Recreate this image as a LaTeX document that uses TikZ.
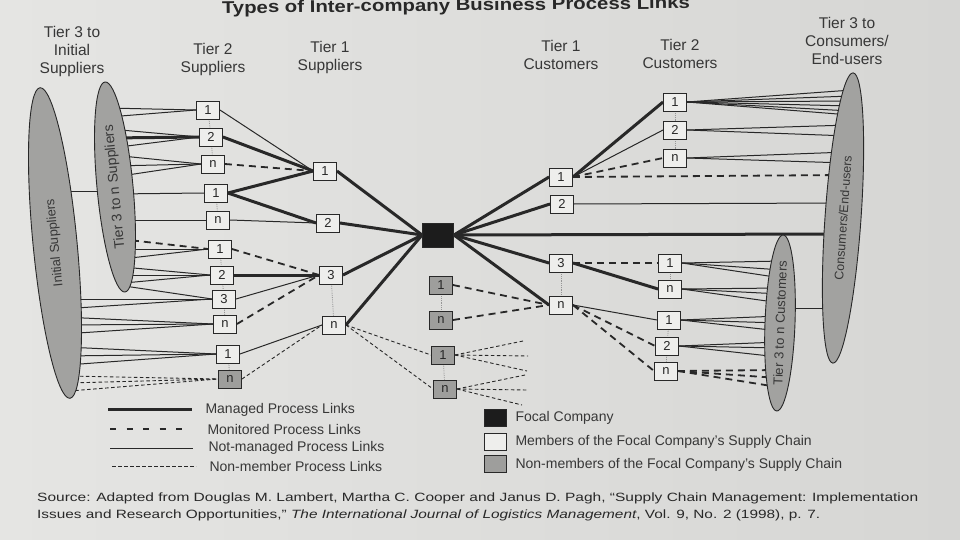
\documentclass[tikz,border=0pt]{standalone}
\usepackage{graphicx}
\usepackage{fontspec}
\setmainfont{Liberation Sans}
\usetikzlibrary{shapes.geometric}

\definecolor{paperL}{RGB}{229,229,227}
\definecolor{paperR}{RGB}{214,214,212}
\definecolor{ink}{RGB}{40,40,40}
\definecolor{txt}{RGB}{55,55,55}
\definecolor{memfill}{RGB}{238,238,236}
\definecolor{nonfill}{RGB}{158,158,156}
\definecolor{ellfill}{RGB}{162,162,160}
\definecolor{focfill}{RGB}{28,28,28}
\definecolor{runggrey}{RGB}{150,150,150}

\pgfdeclarelayer{paper}
\pgfdeclarelayer{links}
\pgfsetlayers{paper,links,main}

\tikzset{
  member/.style={draw=ink, line width=0.9pt, fill=memfill, minimum width=23pt,
    minimum height=18pt, inner sep=0pt, text=ink, font=\fontsize{13}{13}\selectfont},
  nonmember/.style={member, fill=nonfill},
  focalbox/.style={draw=ink, line width=0.9pt, fill=focfill, minimum width=31pt,
    minimum height=24pt, inner sep=0pt},
  cluster/.style={ellipse, draw=ink, line width=0.9pt, fill=ellfill, inner sep=0pt, text=txt},
  managed/.style={draw=ink, line width=3pt},
  monitored/.style={draw=ink, line width=1.8pt, dash pattern=on 7pt off 5pt},
  notmanaged/.style={draw=ink, line width=1pt},
  nonmemberlink/.style={draw=ink, line width=0.9pt, dash pattern=on 3.5pt off 2.5pt},
  rung/.style={draw=runggrey, line width=0.8pt, densely dotted},
  header/.style={text=txt, align=center, font=\fontsize{15.5}{18}\selectfont},
  legendtxt/.style={text=txt, anchor=west, font=\fontsize{14}{14}\selectfont},
  srctxt/.style={text=ink, inner sep=0pt, font=\fontsize{12}{14}\selectfont}
}

\begin{document}
\begin{tikzpicture}[x=1pt,y=-1pt]
\useasboundingbox (0,0) rectangle (960,540);
\begin{pgfonlayer}{paper}
  \shade[left color=paperL, right color=paperR] (0,0) rectangle (960,540);
\end{pgfonlayer}

% title
\node[anchor=base, text=ink, inner sep=0pt, rotate=0.6, font=\fontsize{17}{17}\selectfont]
  (title) at (456,11) {\resizebox{468pt}{\height}{\bfseries Types of Inter-company Business Process Links}};

% column headings
\node[header] (hInit) at (72,51) {Tier 3 to\\Initial\\Suppliers};
\node[header] (hSupTwo) at (213,59) {Tier 2\\Suppliers};
\node[header] (hSupOne) at (330,57) {Tier 1\\Suppliers};
\node[header] (hCusOne) at (561,55) {Tier 1\\Customers};
\node[header] (hCusTwo) at (680,54) {Tier 2\\Customers};
\node[header] (hCons) at (847,41) {Tier 3 to\\Consumers/\\End-users};

% supplier and customer groups
\node[cluster, minimum width=312pt, minimum height=44pt, rotate=95.5,
  font=\fontsize{13}{13}\selectfont] (initial) at (55,243) {Initial Suppliers};
\node[cluster, minimum width=211pt, minimum height=36pt, rotate=95.4,
  font=\fontsize{14}{14}\selectfont] (tierthree) at (115,187) {Tier 3 to n Suppliers};
\node[cluster, minimum width=291pt, minimum height=36pt, rotate=86,
  font=\fontsize{12.5}{12.5}\selectfont] (consumers) at (843,218) {Consumers/End-users};
\node[cluster, minimum width=165pt, minimum height=30pt, rotate=87.9,
  font=\fontsize{13}{13}\selectfont] (custthree) at (780,323) {Tier 3 to n Customers};

% tier 2 suppliers
\node[member] (s2a) at (208,110) {1};
\node[member] (s2b) at (211,137) {2};
\node[member] (s2c) at (213,164) {n};
\node[member] (s2d) at (216,193) {1};
\node[member] (s2e) at (218,220) {n};
\node[member] (s2f) at (220,249) {1};
\node[member] (s2g) at (222,275) {2};
\node[member] (s2h) at (224,299) {3};
\node[member] (s2i) at (225,324) {n};
\node[member] (s2j) at (228,354) {1};
\node[nonmember] (s2k) at (230,379) {n};

% tier 1 suppliers
\node[member] (s1a) at (325,171) {1};
\node[member] (s1b) at (328,223) {2};
\node[member] (s1c) at (331,275) {3};
\node[member] (s1d) at (334,325) {n};

% focal company
\node[focalbox] (focal) at (438,235) {};

% non-members in the middle
\node[nonmember] (ga) at (441,285) {1};
\node[nonmember] (gb) at (441,320) {n};
\node[nonmember] (gc) at (443,355) {1};
\node[nonmember] (gd) at (445,389) {n};

% tier 1 customers
\node[member] (c1a) at (561,177) {1};
\node[member] (c1b) at (562,204) {2};
\node[member] (c1c) at (561,263) {3};
\node[member] (c1d) at (561,305) {n};

% tier 2 customers
\node[member] (c2a) at (675,102) {1};
\node[member] (c2b) at (675,130) {2};
\node[member] (c2c) at (675,158) {n};
\node[member] (c2d) at (670,263) {1};
\node[member] (c2e) at (670,289) {n};
\node[member] (c2f) at (669,320) {1};
\node[member] (c2g) at (667,346) {2};
\node[member] (c2h) at (666,371) {n};

\begin{pgfonlayer}{links}
  % dotted rungs inside each group of boxes
  \draw[rung] (s2a) -- (s2b);
  \draw[rung] (s2b) -- (s2c);
  \draw[rung] (s2d) -- (s2e);
  \draw[rung] (s2f) -- (s2g);
  \draw[rung] (s2g) -- (s2h);
  \draw[rung] (s2h) -- (s2i);
  \draw[rung] (s2j) -- (s2k);
  \draw[rung] (s1c) -- (s1d);
  \draw[rung] (ga) -- (gb);
  \draw[rung] (gc) -- (gd);
  \draw[rung] (c1c) -- (c1d);
  \draw[rung] (c2a) -- (c2b);
  \draw[rung] (c2b) -- (c2c);
  \draw[rung] (c2d) -- (c2e);
  \draw[rung] (c2f) -- (c2g);
  \draw[rung] (c2g) -- (c2h);

  % initial suppliers to tier 3 suppliers
  \coordinate (iLink) at (50,191);
  \coordinate (tLink) at (115,191);
  \draw[notmanaged] (iLink) -- (tLink);

  % tier 3 to n suppliers fanning into tier 2
  \foreach \yy/\tgt/\sty [count=\k] in {108/s2a/notmanaged, 117/s2a/notmanaged,
      129/s2b/notmanaged, 138/s2b/managed, 148/s2b/notmanaged,
      155/s2c/notmanaged, 166/s2c/notmanaged, 177/s2c/notmanaged,
      194/s2d/notmanaged, 220/s2e/notmanaged,
      239/s2f/monitored, 249/s2f/notmanaged, 259/s2f/notmanaged,
      267/s2g/notmanaged, 275/s2g/notmanaged, 283/s2g/notmanaged,
      286/s2h/notmanaged}{
    \coordinate (tsup\k) at ({115+(\yy-187)*0.0952},\yy);
    \draw[\sty] (tsup\k) -- (\tgt.west);
  }

  % initial suppliers fanning into tier 2
  \foreach \yy/\tgt/\sty [count=\k] in {299/s2h/notmanaged, 309/s2h/notmanaged,
      317/s2i/notmanaged, 325/s2i/notmanaged, 334/s2i/notmanaged,
      347/s2j/notmanaged, 356/s2j/notmanaged, 365/s2j/notmanaged,
      376/s2k/nonmemberlink, 383/s2k/nonmemberlink, 391/s2k/nonmemberlink}{
    \coordinate (isup\k) at ({55+(\yy-243)*0.0965},\yy);
    \draw[\sty] (isup\k) -- (\tgt.west);
  }

  % tier 2 to tier 1 suppliers
  \draw[notmanaged] (s2a.east) -- (s1a.west);
  \draw[managed] (s2b.east) -- (s1a.west);
  \draw[monitored] (s2c.east) -- (s1a.west);
  \draw[managed] (s2d.east) -- (s1a.west);
  \draw[managed] (s2d.east) -- (s1b.west);
  \draw[notmanaged] (s2e.east) -- (s1b.west);
  \draw[monitored] (s2f.east) -- (s1c.west);
  \draw[managed] (s2g.east) -- (s1c.west);
  \draw[notmanaged] (s2h.east) -- (s1c.west);
  \draw[monitored] (s2i.east) -- (s1c.west);
  \draw[notmanaged] (s2j.east) -- (s1d.west);
  \draw[nonmemberlink] (s2k.east) -- (s1d.west);

  % tier 1 suppliers to the focal company
  \draw[managed] (s1a.east) -- (focal.west);
  \draw[managed] (s1b.east) -- (focal.west);
  \draw[managed] (s1c.east) -- (focal.west);
  \draw[managed] (s1d.east) -- (focal.west);

  % tier 1 supplier n to non-members
  \draw[nonmemberlink] (s1d.east) -- (gc.west);
  \draw[nonmemberlink] (s1d.east) -- (gd.west);

  % non-members beyond the chain
  \coordinate (gcA) at (523,341);
  \coordinate (gcB) at (528,356);
  \coordinate (gcC) at (527,371);
  \coordinate (gdA) at (525,375);
  \coordinate (gdB) at (527,390);
  \coordinate (gdC) at (522,405);
  \draw[nonmemberlink] (gc.east) -- (gcA);
  \draw[nonmemberlink] (gc.east) -- (gcB);
  \draw[nonmemberlink] (gc.east) -- (gcC);
  \draw[nonmemberlink] (gd.east) -- (gdA);
  \draw[nonmemberlink] (gd.east) -- (gdB);
  \draw[nonmemberlink] (gd.east) -- (gdC);

  % focal company to tier 1 customers
  \draw[managed] (focal.east) -- (c1a.west);
  \draw[managed] (focal.east) -- (c1b.west);
  \draw[managed] (focal.east) -- (c1c.west);
  \draw[managed] (focal.east) -- (c1d.west);

  % monitored non-members
  \draw[monitored] (ga.east) -- (c1d.west);
  \draw[monitored] (gb.east) -- (c1d.west);

  % tier 1 to tier 2 customers
  \draw[managed] (c1a.east) -- (c2a.west);
  \draw[notmanaged] (c1a.east) -- (c2b.west);
  \draw[monitored] (c1a.east) -- (c2c.west);
  \draw[monitored] (c1c.east) -- (c2d.west);
  \draw[managed] (c1c.east) -- (c2e.west);
  \draw[notmanaged] (c1d.east) -- (c2f.west);
  \draw[monitored] (c1d.east) -- (c2g.west);
  \draw[monitored] (c1d.east) -- (c2h.west);

  % links into consumers / end-users
  \foreach \yy/\src/\sty [count=\k] in {90/c2a/notmanaged, 96/c2a/notmanaged,
      101/c2a/notmanaged, 106/c2a/notmanaged, 111/c2a/notmanaged, 115/c2a/notmanaged,
      125/c2b/notmanaged, 136/c2b/notmanaged, 152/c2c/notmanaged, 163/c2c/notmanaged,
      175/c1a/monitored, 203/c1b/notmanaged, 234/focal/managed}{
    \coordinate (cons\k) at ({843-(\yy-218)*0.069},\yy);
    \draw[\sty] (\src.east) -- (cons\k);
  }

  % links into tier 3 to n customers
  \foreach \yy/\src/\sty [count=\k] in {261/c2d/notmanaged, 270/c2d/notmanaged,
      278/c2d/notmanaged, 288/c2e/notmanaged, 294/c2e/notmanaged, 303/c2e/notmanaged,
      316/c2f/notmanaged, 323/c2f/notmanaged, 331/c2f/notmanaged,
      342/c2g/notmanaged, 348/c2g/notmanaged, 357/c2g/notmanaged,
      370/c2h/monitored, 378/c2h/monitored, 387/c2h/monitored}{
    \coordinate (cthr\k) at ({780-(\yy-323)*0.0364},\yy);
    \draw[\sty] (\src.east) -- (cthr\k);
  }

  % tier 3 customers to consumers
  \coordinate (ctLink) at (780,308);
  \coordinate (ccLink) at (837,308);
  \draw[notmanaged] (ctLink) -- (ccLink);
\end{pgfonlayer}

% legend: link types
\coordinate (lgA1) at (108,409); \coordinate (lgA2) at (192,409);
\coordinate (lgB1) at (110,429); \coordinate (lgB2) at (192,429);
\coordinate (lgC1) at (110,448); \coordinate (lgC2) at (193,448);
\coordinate (lgD1) at (112,466); \coordinate (lgD2) at (196,466);
\draw[managed] (lgA1) -- (lgA2);
\draw[monitored, dash pattern=on 6pt off 10.5pt] (lgB1) -- (lgB2);
\draw[notmanaged] (lgC1) -- (lgC2);
\draw[nonmemberlink] (lgD1) -- (lgD2);
\node[legendtxt] (lgAt) at (202,410) {Managed Process Links};
\node[legendtxt] (lgBt) at (204,429) {Monitored Process Links};
\node[legendtxt] (lgCt) at (205,448) {Not-managed Process Links};
\node[legendtxt] (lgDt) at (206,466) {Non-member Process Links};

% legend: company types
\node[focalbox, minimum width=22pt, minimum height=17pt] (lgF) at (495,418) {};
\node[member, minimum width=22pt, minimum height=17pt] (lgM) at (495,442) {};
\node[nonmember, minimum width=22pt, minimum height=17pt] (lgN) at (495,464) {};
\node[legendtxt] (lgFt) at (512,418) {Focal Company};
\node[legendtxt] (lgMt) at (512,442) {Members of the Focal Company’s Supply Chain};
\node[legendtxt] (lgNt) at (512,465) {Non-members of the Focal Company’s Supply Chain};

% source note
\node[srctxt, anchor=base west] (srcA) at (37,501)
  {\resizebox{881pt}{\height}{Source: Adapted from Douglas M. Lambert, Martha C. Cooper and Janus D. Pagh, “Supply Chain Management: Implementation}};
\node[srctxt, anchor=base west] (srcB) at (37,518)
  {\resizebox{783pt}{\height}{Issues and Research Opportunities,” \textit{The International Journal of Logistics Management}, Vol. 9, No. 2 (1998), p. 7.}};
\end{tikzpicture}
\end{document}
